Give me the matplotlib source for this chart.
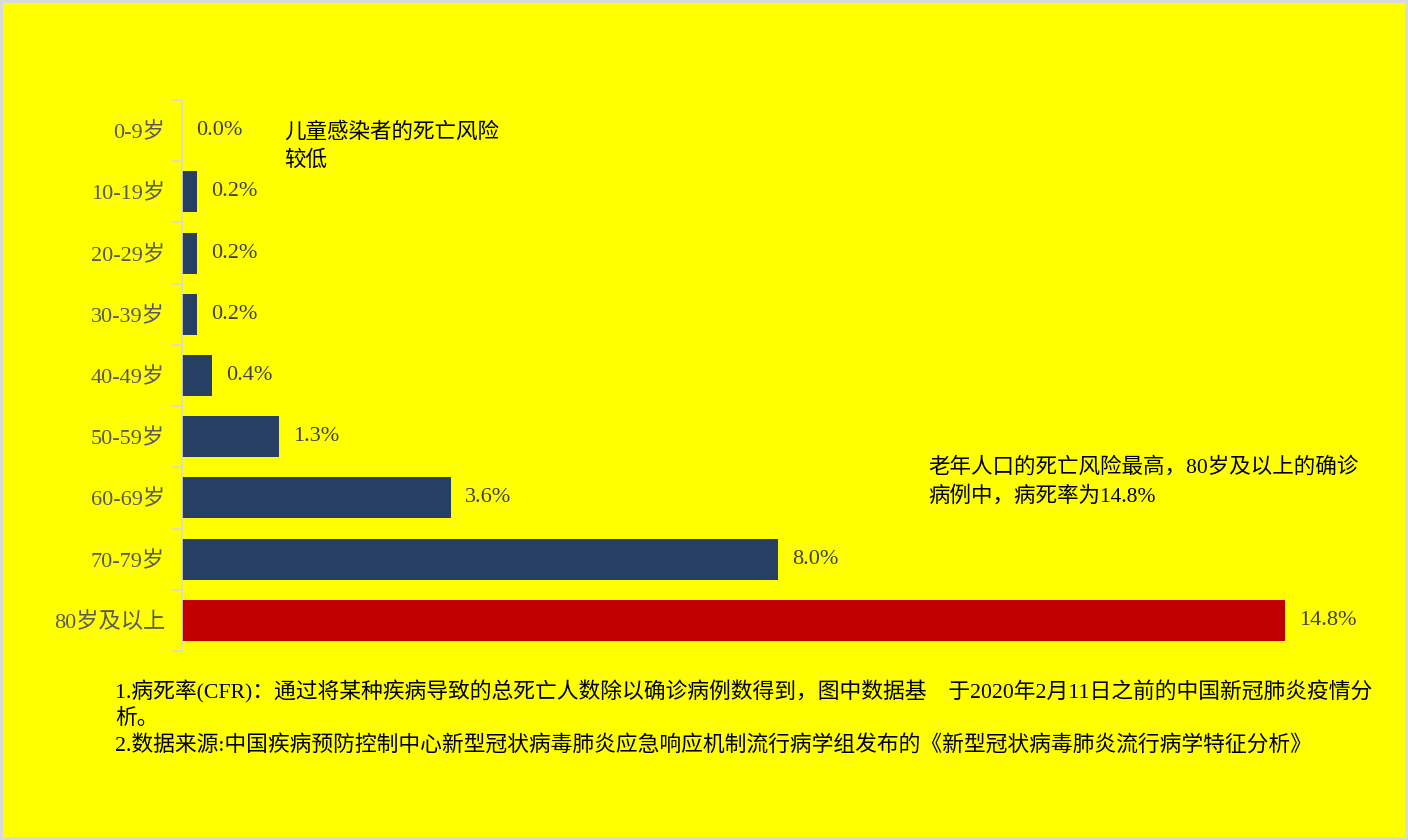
import numpy as np
import matplotlib
matplotlib.use('Agg')
from matplotlib import pyplot as plt
from matplotlib.ticker import FixedLocator

plt.rcParams['font.family'] = ['Liberation Serif', 'Noto Sans CJK SC', 'DejaVu Sans']

# data
ages = ['0-9岁', '10-19岁', '20-29岁', '30-39岁', '40-49岁',
        '50-59岁', '60-69岁', '70-79岁', '80岁及以上']
cfr = [0.0, 0.2, 0.2, 0.2, 0.4, 1.3, 3.6, 8.0, 14.8]
bar_colors = ['#263F63'] * 8 + ['#C00000']

note_kids = ['儿童感染者的死亡风险', '较低']
note_old = ['老年人口的死亡风险最高，80岁及以上的确诊', '病例中，病死率为14.8%']
footnote = ['1.病死率(CFR)：通过将某种疾病导致的总死亡人数除以确诊病例数得到，图中数据基　于2020年2月11日之前的中国新冠肺炎疫情分',
            '析。',
            '2.数据来源:中国疾病预防控制中心新型冠状病毒肺炎应急响应机制流行病学组发布的《新型冠状病毒肺炎流行病学特征分析》']

bg = '#FFFF00'
fig = plt.figure(figsize=(14.08, 8.4), dpi=100, facecolor=bg)
fig.patch.set_edgecolor('#D9D9D9')
fig.patch.set_linewidth(3)
ax = fig.add_axes([0.1296, 0.225, 0.8466, 0.656])
ax.set_facecolor(bg)

y = np.arange(len(ages))
ax.barh(y, cfr, height=0.67, color=bar_colors)
for yi, v in zip(y, cfr):
    ax.annotate(f'{v:.1f}%', xy=(v, yi), xytext=(10, 0), textcoords='offset points',
                va='center', ha='left', fontsize=16, color='#404040')

ax.set_xlim(0, 16)
ax.set_ylim(8.5, -0.5)
ax.set_yticks(y)
ax.set_yticklabels(ages, fontsize=16, color='#595959')
ax.yaxis.set_minor_locator(FixedLocator(np.arange(-0.5, 9, 1)))
ax.tick_params(axis='y', which='major', length=0, pad=12.5)
ax.tick_params(axis='y', which='minor', length=7, color='#D9D9D9', width=1.2)
ax.set_xticks([])
for s in ['top', 'right', 'bottom']:
    ax.spines[s].set_visible(False)
ax.spines['left'].set_color('#D9D9D9')
ax.spines['left'].set_linewidth(1.2)

fam = ['Liberation Serif', 'Noto Sans CJK SC']


def text_block(x_px, y_px, lines, step, size):
    for i, line in enumerate(lines):
        fig.text(x_px / 1408, 1 - (y_px + i * step) / 840, line, fontsize=size,
                 color='black', va='center', ha='left', family=fam)


text_block(284, 132, note_kids, 29, 15.5)
text_block(928, 467, note_old, 29, 15.5)
text_block(115, 692, footnote, 26.5, 15.7)

fig.savefig('out.png', dpi=100, facecolor=bg, edgecolor='#D9D9D9')
